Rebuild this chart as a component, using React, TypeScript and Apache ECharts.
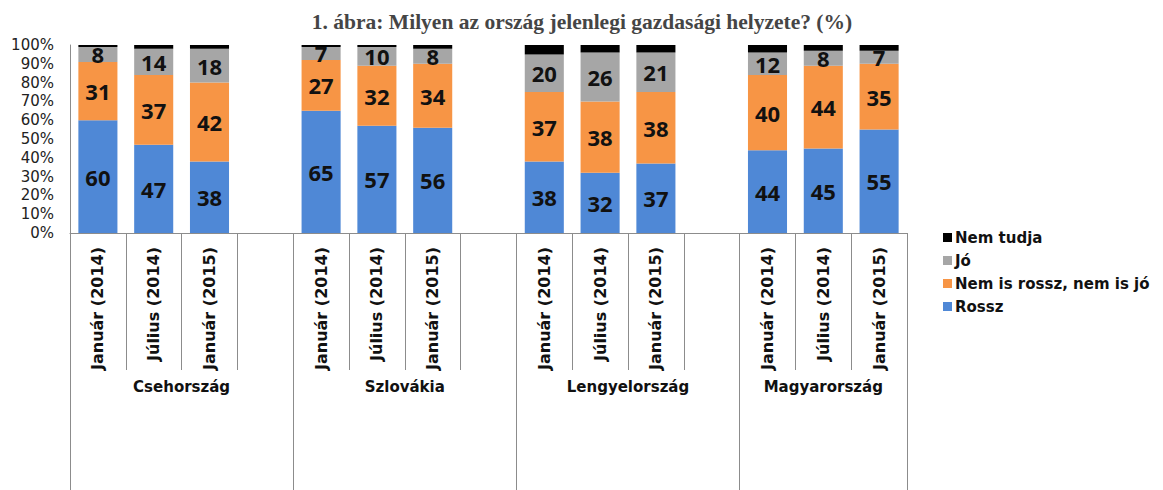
import React, { useEffect, useRef } from "react";
import * as echarts from "echarts";

const titleText = "1. ábra: Milyen az ország jelenlegi gazdasági helyzete? (%)";
const countries = ["Csehország", "Szlovákia", "Lengyelország", "Magyarország"];
const periods = ["Január (2014)", "Július (2014)", "Január (2015)"];
const seriesNames = ["Rossz", "Nem is rossz, nem is jó", "Jó", "Nem tudja"];
const rossz = [60, 47, 38, 65, 57, 56, 38, 32, 37, 44, 45, 55];
const kozepes = [31, 37, 42, 27, 32, 34, 37, 38, 38, 40, 44, 35];
const jo = [8, 14, 18, 7, 10, 8, 20, 26, 21, 12, 8, 7];
const nemTudja = [1, 2, 2, 1, 1, 2, 5, 4, 4, 4, 3, 3];
const colors = ["#4F88D6", "#F79545", "#A6A6A6", "#000000"];

function buildCategories(): string[] {
  const out: string[] = [];
  countries.forEach((_, ci) => {
    periods.forEach((p) => out.push(p));
    if (ci < countries.length - 1) out.push("");
  });
  return out;
}

function withGaps(vals: number[]): (number | string)[] {
  const out: (number | string)[] = [];
  countries.forEach((_, ci) => {
    periods.forEach((__, pi) => out.push(vals[ci * periods.length + pi]));
    if (ci < countries.length - 1) out.push("-");
  });
  return out;
}

export default function App() {
  const ref = useRef<HTMLDivElement>(null);
  useEffect(() => {
    document.body.style.margin = "0";
    if (!ref.current) return;
    const chart = echarts.init(ref.current, undefined, { renderer: "svg" });
    const categories = buildCategories();
    const dataSets = [rossz, kozepes, jo, nemTudja];
    const titleEl = {
      type: "text",
      x: 582,
      y: 22,
      style: {
        text: titleText,
        textAlign: "center",
        textVerticalAlign: "middle",
        fontFamily: "Liberation Serif",
        fontWeight: "bold",
        fontSize: 21.5,
        fill: "#454545",
      },
    };
    const option: any = {
      animation: false,
      backgroundColor: "#ffffff",
      grid: { left: 70, right: 256, top: 45, bottom: 257, containLabel: false },
      legend: {
        orient: "vertical",
        left: 938,
        top: 225,
        itemWidth: 9,
        itemHeight: 9,
        itemGap: 8,
        icon: "rect",
        data: ["Nem tudja", "Jó", "Nem is rossz, nem is jó", "Rossz"],
        textStyle: {
          fontFamily: "DejaVu Sans",
          fontWeight: "bold",
          fontSize: 15,
          color: "#111",
          padding: [0, 0, 0, -2],
        },
      },
      xAxis: [
        {
          type: "category",
          data: categories,
          position: "bottom",
          axisLine: { show: true, lineStyle: { color: "#8c8c8c", width: 1 } },
          axisTick: {
            show: true,
            interval: 0,
            length: 137,
            lineStyle: { color: "#8c8c8c", width: 1 },
          },
          axisLabel: {
            interval: 0,
            rotate: 90,
            margin: 14,
            fontFamily: "DejaVu Sans",
            fontWeight: "bold",
            fontSize: 16,
            color: "#111",
          },
        },
        {
          type: "category",
          data: categories,
          position: "bottom",
          axisLine: { show: false },
          axisTick: {
            show: true,
            interval: 3,
            length: 260,
            lineStyle: { color: "#8c8c8c", width: 1 },
          },
          axisLabel: { show: false },
        },
      ],
      yAxis: {
        type: "value",
        min: 0,
        max: 100,
        interval: 10,
        axisLine: { show: true, lineStyle: { color: "#8c8c8c", width: 1 } },
        axisTick: { show: false },
        splitLine: { show: false },
        axisLabel: {
          formatter: "{value}%",
          margin: 16,
          fontFamily: "DejaVu Sans",
          fontSize: 15,
          color: "#222",
        },
      },
      series: seriesNames.map((name, i) => ({
        name,
        type: "bar",
        stack: "total",
        xAxisIndex: 0,
        barCategoryGap: "30%",
        itemStyle: { color: colors[i] },
        data: withGaps(dataSets[i]),
        label: {
          show: i < 3,
          position: "inside",
          fontFamily: "Open Sans",
          fontWeight: "bold",
          fontSize: 22,
          color: "#111",
        },
      })),
      graphic: [titleEl],
    };
    chart.setOption(option);

    // group labels centred under each country's span (incl. trailing gap)
    const groupLabels: any[] = [];
    let start = 0;
    countries.forEach((c, ci) => {
      const end = start + periods.length - (ci < countries.length - 1 ? 0 : 1);
      const x0 = chart.convertToPixel({ xAxisIndex: 0 }, start) as number;
      const x1 = chart.convertToPixel({ xAxisIndex: 0 }, end) as number;
      groupLabels.push({
        type: "text",
        x: (x0 + x1) / 2,
        y: 387,
        style: {
          text: c,
          textAlign: "center",
          textVerticalAlign: "middle",
          fontFamily: "DejaVu Sans",
          fontWeight: "bold",
          fontSize: 15,
          fill: "#111",
        },
      });
      start = end + 1;
    });
    chart.setOption({ graphic: [titleEl, ...groupLabels] });

    return () => chart.dispose();
  }, []);
  return <div ref={ref} style={{ width: 1163, height: 490 }} />;
}
